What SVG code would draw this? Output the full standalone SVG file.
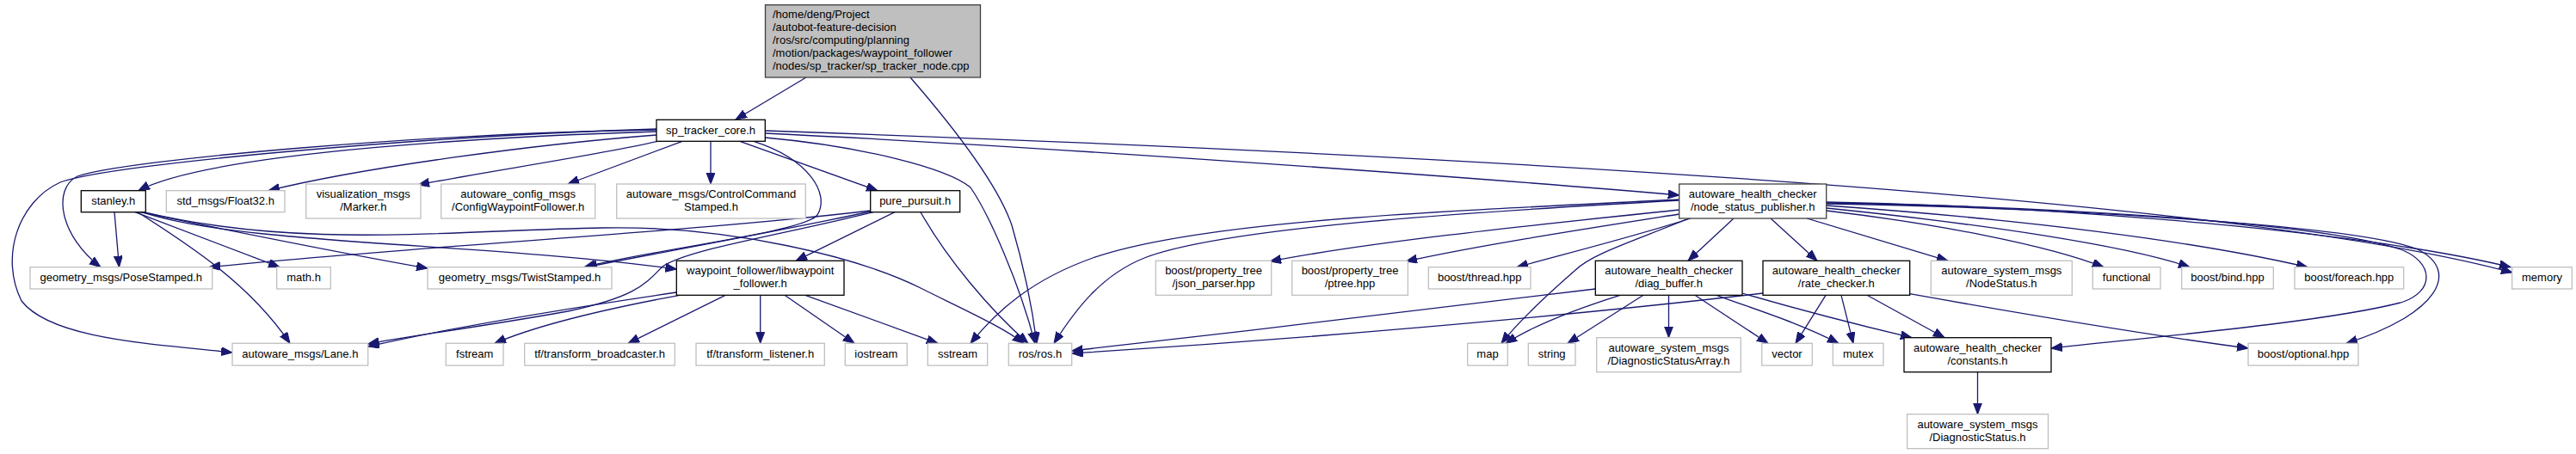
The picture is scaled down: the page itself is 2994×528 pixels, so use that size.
<svg xmlns="http://www.w3.org/2000/svg" width="2994" height="528" viewBox="0 0 2994 528">
<defs>
<marker id="ah" markerUnits="userSpaceOnUse" markerWidth="14" markerHeight="11" refX="13" refY="5" orient="auto" viewBox="0 0 14 11">
<path d="M0,0 L13,5 L0,10 z" fill="#191970" stroke="#191970" stroke-width="1"/>
</marker>
</defs>
<style>
.e{fill:none;stroke:#191970;stroke-width:1.3;marker-end:url(#ah)}
.g{fill:#fff;stroke:#bfbfbf;stroke-width:1.3}
.b{fill:#fff;stroke:#000;stroke-width:1.3}
.k{fill:#fff;stroke:#404040;stroke-width:1.3}
.r{fill:#bfbfbf;stroke:#404040;stroke-width:1.3}
text{font-family:"Liberation Sans",Arial,Helvetica,sans-serif;font-size:13px;fill:#000;text-anchor:middle}
text.l{text-anchor:start}
</style>
<rect width="2994" height="528" fill="#fff"/>
<g id="edges">
<path class="e" d="M937,90 L855,139"/>
<path class="e" d="M1058,90 C1110,150 1160,215 1176,262 C1190,310 1200,360 1205,399.3"/>
<path class="e" d="M763,153 C600,158 250,175 161,221.7"/>
<path class="e" d="M763,157 C620,168 420,195 312,221.7"/>
<path class="e" d="M770,163 C700,180 560,200 486,215"/>
<path class="e" d="M793,164.3 L660,214"/>
<path class="e" d="M826,164.3 L826,214"/>
<path class="e" d="M860,164.3 L1020,221.7"/>
<path class="e" d="M889.3,155 C1200,170 1700,205 1951.7,227"/>
<path class="e" d="M889.3,152 C1700,180 2600,230 2920,317"/>
<path class="e" d="M889.3,160 C1000,170 1100,195 1128,218 C1150,250 1185,330 1203,399.3"/>
<path class="e" d="M876,164.3 C940,185 965,225 950,250 C935,270 760,290 679,310.7"/>
<path class="e" d="M763,151 C500,155 150,185 90,205 C60,220 70,275 117,310.7"/>
<path class="e" d="M763,150 C500,158 130,190 70,212 C20,235 0,300 25,350 C60,395 180,400 270,410"/>
<path class="e" d="M133,246.7 L138.5,310.7"/>
<path class="e" d="M157,246.7 L325,310.7"/>
<path class="e" d="M160,246.7 C220,285 290,330 337,399.3"/>
<path class="e" d="M163,246.7 C300,275 400,295 497,312"/>
<path class="e" d="M165,246.7 C280,285 560,282 786.3,313"/>
<path class="e" d="M167,246.7 C350,290 520,268 700,265 C850,262 1000,300 1070,335 C1120,360 1165,380 1190,399.3"/>
<path class="e" d="M1011.7,245 C800,270 500,285 243,310.7"/>
<path class="e" d="M1011.7,246 C900,270 760,295 681,310.7"/>
<path class="e" d="M1015,246.7 C900,275 800,290 770,310 C750,330 740,345 660,362 C560,380 480,390 427.7,400"/>
<path class="e" d="M1040,246.7 L925,303.3"/>
<path class="e" d="M1070,246.7 C1100,300 1150,360 1195,399.3"/>
<path class="e" d="M786.3,340 C650,360 520,382 427.7,403"/>
<path class="e" d="M790,343.3 C700,360 620,380 575,399.3"/>
<path class="e" d="M843,343.3 L730,399.3"/>
<path class="e" d="M883.7,343.3 L883.7,399.3"/>
<path class="e" d="M912,343.3 L993,399.3"/>
<path class="e" d="M936,343.3 L1090,399.3"/>
<path class="e" d="M1951.7,232 C1700,245 1400,255 1270,300 C1200,325 1160,360 1128,399.3"/>
<path class="e" d="M1951.7,233 C1700,247 1420,265 1330,300 C1280,320 1250,360 1225,399.3"/>
<path class="e" d="M1951.7,244 C1800,260 1600,280 1476,304"/>
<path class="e" d="M1951.7,249 C1850,265 1720,285 1634,304"/>
<path class="e" d="M1965,254 C1900,275 1820,295 1763,310.7"/>
<path class="e" d="M1963,254 C1900,280 1850,295 1830,315 C1790,350 1760,380 1745,399.3"/>
<path class="e" d="M2015,254 L1962,303.3"/>
<path class="e" d="M2058,254 L2112,303.3"/>
<path class="e" d="M2100,254 L2264,303.3"/>
<path class="e" d="M2122.7,245 C2250,260 2380,285 2445,310.7"/>
<path class="e" d="M2122.7,242 C2300,260 2470,285 2545,310.7"/>
<path class="e" d="M2122.7,239 C2350,255 2550,280 2682,310.7"/>
<path class="e" d="M2122.7,235 C2400,240 2750,270 2918,310.7"/>
<path class="e" d="M2122.7,236 C2400,240 2700,260 2790,290 C2830,305 2830,340 2790,352 C2700,375 2500,392 2384,405"/>
<path class="e" d="M2122.7,237 C2400,242 2740,262 2810,290 C2860,315 2835,365 2727,399.3"/>
<path class="e" d="M1854.3,336 C1700,355 1450,385 1245.7,408"/>
<path class="e" d="M1883,343.3 C1830,360 1780,380 1750,399.3"/>
<path class="e" d="M1910,343.3 L1822,399.3"/>
<path class="e" d="M1939.5,343.3 L1939.5,392.7"/>
<path class="e" d="M1970,343.3 L2055,399.3"/>
<path class="e" d="M1995,343.3 C2040,360 2090,375 2137,399.3"/>
<path class="e" d="M2025,341 C2090,360 2160,378 2222,392.7"/>
<path class="e" d="M2049,341 C1800,370 1500,395 1245.7,411"/>
<path class="e" d="M2122,343.3 L2087,399.3"/>
<path class="e" d="M2140,343.3 L2154,399.3"/>
<path class="e" d="M2170,343.3 L2260,392.7"/>
<path class="e" d="M2219.7,341.7 C2350,365 2500,390 2613,405"/>
<path class="e" d="M2298.5,432.7 L2298.5,481.7"/>
</g>
<g id="root"><rect class="r" x="889.5" y="5.7" width="250" height="84.3"/>
<text class="l" x="898" y="21">/home/deng/Project</text>
<text class="l" x="898" y="36">/autobot-feature-decision</text>
<text class="l" x="898" y="51">/ros/src/computing/planning</text>
<text class="l" x="898" y="66">/motion/packages/waypoint_follower</text>
<text class="l" x="898" y="81">/nodes/sp_tracker/sp_tracker_node.cpp</text></g>
<g id="sp_tracker_core"><rect class="b" x="763" y="139.3" width="126.3" height="25"/><text x="826" y="155.5">sp_tracker_core.h</text></g>
<g id="stanley"><rect class="b" x="94.3" y="221.7" width="75" height="25"/><text x="131.8" y="237.7">stanley.h</text></g>
<g id="float32"><rect class="g" x="193.3" y="221.7" width="137.7" height="25"/><text x="262.2" y="237.7">std_msgs/Float32.h</text></g>
<g id="marker"><rect class="g" x="355.7" y="214" width="133.3" height="40"/><text x="422.3" y="230">visualization_msgs</text><text x="422.3" y="245">/Marker.h</text></g>
<g id="configwf"><rect class="g" x="512.7" y="214" width="179" height="40"/><text x="602.2" y="230">autoware_config_msgs</text><text x="602.2" y="245">/ConfigWaypointFollower.h</text></g>
<g id="controlcmd"><rect class="g" x="716.7" y="214" width="219.6" height="40"/><text x="826.5" y="230">autoware_msgs/ControlCommand</text><text x="826.5" y="245">Stamped.h</text></g>
<g id="pure_pursuit"><rect class="b" x="1011.7" y="221.7" width="104" height="25"/><text x="1063.7" y="237.7">pure_pursuit.h</text></g>
<g id="node_status_publisher"><rect class="k" x="1951.7" y="214" width="171" height="40"/><text x="2037.2" y="230">autoware_health_checker</text><text x="2037.2" y="245">/node_status_publisher.h</text></g>
<g id="posestamped"><rect class="g" x="35" y="310.7" width="211.7" height="25.3"/><text x="140.8" y="326.8">geometry_msgs/PoseStamped.h</text></g>
<g id="math"><rect class="g" x="321.7" y="310.7" width="62.6" height="25.3"/><text x="353" y="326.8">math.h</text></g>
<g id="twiststamped"><rect class="g" x="497" y="310.7" width="214" height="25.3"/><text x="604" y="326.8">geometry_msgs/TwistStamped.h</text></g>
<g id="libwaypoint_follower"><rect class="b" x="786.3" y="303.3" width="194.7" height="40"/><text x="883.7" y="319.3">waypoint_follower/libwaypoint</text><text x="883.7" y="334.3">_follower.h</text></g>
<g id="json_parser"><rect class="g" x="1343.3" y="303.3" width="134.4" height="40"/><text x="1410.5" y="319.3">boost/property_tree</text><text x="1410.5" y="334.3">/json_parser.hpp</text></g>
<g id="ptree"><rect class="g" x="1501.7" y="303.3" width="134.6" height="40"/><text x="1569" y="319.3">boost/property_tree</text><text x="1569" y="334.3">/ptree.hpp</text></g>
<g id="thread"><rect class="g" x="1660.3" y="310.7" width="118.7" height="25.3"/><text x="1719.7" y="326.8">boost/thread.hpp</text></g>
<g id="diag_buffer"><rect class="b" x="1854.3" y="303.3" width="170.7" height="40"/><text x="1939.7" y="319.3">autoware_health_checker</text><text x="1939.7" y="334.3">/diag_buffer.h</text></g>
<g id="rate_checker"><rect class="b" x="2049" y="303.3" width="170.7" height="40"/><text x="2134.3" y="319.3">autoware_health_checker</text><text x="2134.3" y="334.3">/rate_checker.h</text></g>
<g id="nodestatus"><rect class="g" x="2244.3" y="303.3" width="164" height="40"/><text x="2326.3" y="319.3">autoware_system_msgs</text><text x="2326.3" y="334.3">/NodeStatus.h</text></g>
<g id="functional"><rect class="g" x="2432.3" y="310.7" width="78.7" height="25.3"/><text x="2471.7" y="326.8">functional</text></g>
<g id="bind"><rect class="g" x="2535.7" y="310.7" width="106.6" height="25.3"/><text x="2589" y="326.8">boost/bind.hpp</text></g>
<g id="foreach"><rect class="g" x="2667" y="310.7" width="126.7" height="25.3"/><text x="2730.3" y="326.8">boost/foreach.hpp</text></g>
<g id="memory"><rect class="g" x="2919.7" y="310.7" width="69.6" height="25.3"/><text x="2954.5" y="326.8">memory</text></g>
<g id="lane"><rect class="g" x="270" y="399.3" width="157.7" height="25.7"/><text x="348.8" y="415.6">autoware_msgs/Lane.h</text></g>
<g id="fstream"><rect class="g" x="518.3" y="399.3" width="66.7" height="25.7"/><text x="551.7" y="415.6">fstream</text></g>
<g id="broadcaster"><rect class="g" x="609.7" y="399.3" width="174.6" height="25.7"/><text x="697" y="415.6">tf/transform_broadcaster.h</text></g>
<g id="listener"><rect class="g" x="809" y="399.3" width="149.3" height="25.7"/><text x="883.7" y="415.6">tf/transform_listener.h</text></g>
<g id="iostream"><rect class="g" x="982.3" y="399.3" width="72" height="25.7"/><text x="1018.3" y="415.6">iostream</text></g>
<g id="sstream"><rect class="g" x="1078.3" y="399.3" width="69.4" height="25.7"/><text x="1113" y="415.6">sstream</text></g>
<g id="ros"><rect class="g" x="1172.3" y="399.3" width="73.4" height="25.7"/><text x="1209" y="415.6">ros/ros.h</text></g>
<g id="map"><rect class="g" x="1705.7" y="399.3" width="46.6" height="25.7"/><text x="1729" y="415.6">map</text></g>
<g id="string"><rect class="g" x="1776.3" y="399.3" width="54.7" height="25.7"/><text x="1803.7" y="415.6">string</text></g>
<g id="diagstatusarray"><rect class="g" x="1855.7" y="392.7" width="167.6" height="40"/><text x="1939.5" y="408.7">autoware_system_msgs</text><text x="1939.5" y="423.7">/DiagnosticStatusArray.h</text></g>
<g id="vector"><rect class="g" x="2047.7" y="399.3" width="58.6" height="25.7"/><text x="2077" y="415.6">vector</text></g>
<g id="mutex"><rect class="g" x="2130.3" y="399.3" width="58.7" height="25.7"/><text x="2159.7" y="415.6">mutex</text></g>
<g id="constants"><rect class="b" x="2213" y="392.7" width="171" height="40"/><text x="2298.5" y="408.7">autoware_health_checker</text><text x="2298.5" y="423.7">/constants.h</text></g>
<g id="optional"><rect class="g" x="2613" y="399.3" width="128" height="25.7"/><text x="2677" y="415.6">boost/optional.hpp</text></g>
<g id="diagstatus"><rect class="g" x="2216.6" y="481.7" width="163.9" height="40"/><text x="2298.5" y="497.7">autoware_system_msgs</text><text x="2298.5" y="512.7">/DiagnosticStatus.h</text></g>
</svg>
